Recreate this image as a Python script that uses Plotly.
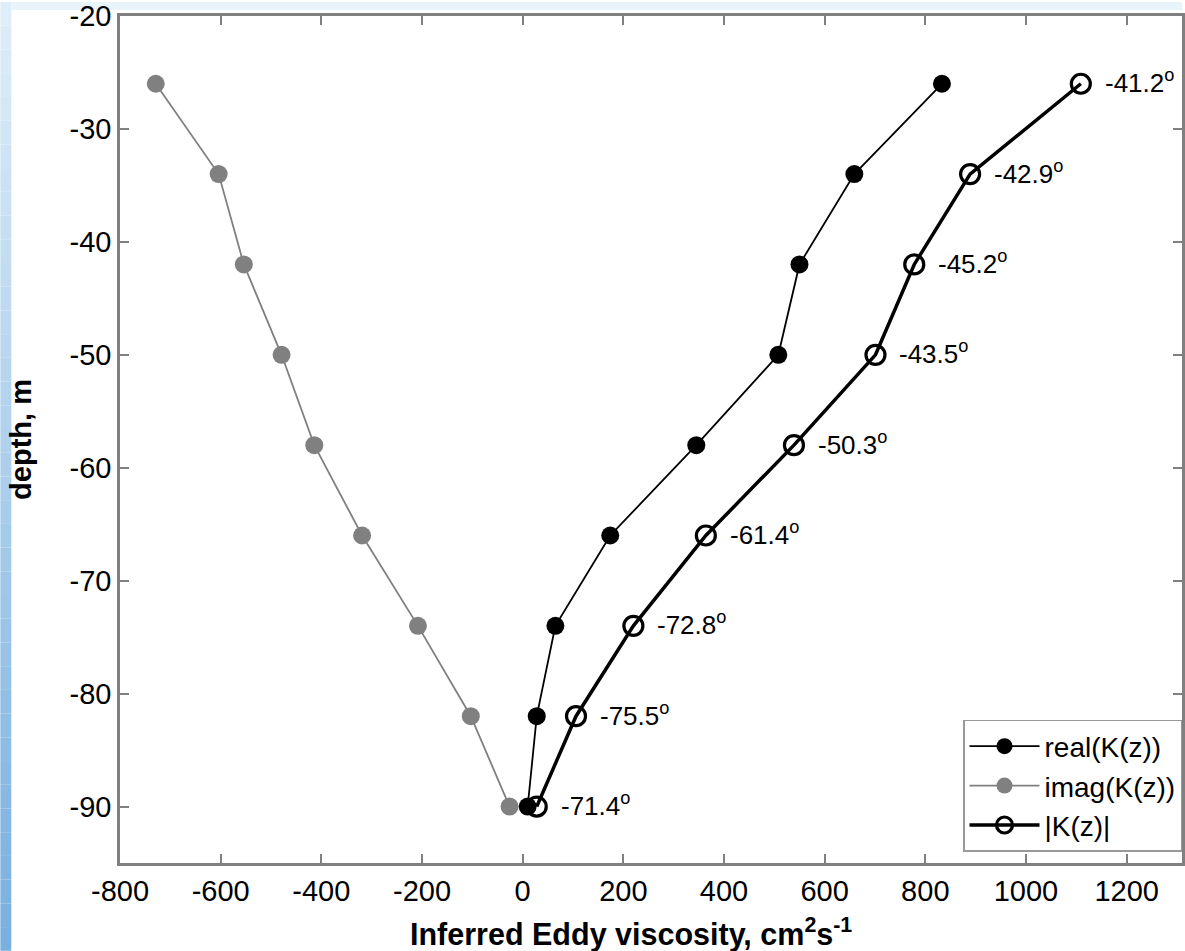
import plotly.graph_objects as go

depth = [-26, -34, -42, -50, -58, -66, -74, -82, -90]
real_k = [833, 659, 550, 508, 345, 174, 65, 28, 10]
imag_k = [-729, -604, -554, -479, -414, -319, -208, -103, -26]
abs_k = [1109, 889, 778, 701, 539, 364, 220, 106, 28]
phase_labels = ["-41.2", "-42.9", "-45.2", "-43.5", "-50.3", "-61.4", "-72.8", "-75.5", "-71.4"]

x_ticks = [-800, -600, -400, -200, 0, 200, 400, 600, 800, 1000, 1200]
x_tick_text = ["-800", "-600", "-400", "-200", "0", "200", "400", "600", "800", "1000", "1200"]
y_ticks = [-90, -80, -70, -60, -50, -40, -30, -20]
y_tick_text = ["-90", "-80", "-70", "-60", "-50", "-40", "-30", "-20"]

FONT = "Liberation Sans, Arial, Helvetica, sans-serif"
GRAY = "#808080"

fig = go.Figure()
fig.add_trace(go.Scatter(
    x=imag_k, y=depth, mode="lines+markers", name="imag(K(z))", legendrank=2,
    line=dict(color=GRAY, width=1.8),
    marker=dict(symbol="circle", size=18, color=GRAY),
))
fig.add_trace(go.Scatter(
    x=real_k, y=depth, mode="lines+markers", name="real(K(z))", legendrank=1,
    line=dict(color="black", width=1.8),
    marker=dict(symbol="circle", size=18, color="black"),
))
fig.add_trace(go.Scatter(
    x=abs_k, y=depth, mode="lines+markers", name="|K(z)|", legendrank=3,
    line=dict(color="black", width=3.5),
    marker=dict(symbol="circle-open", size=19, color="black", line=dict(width=3.2, color="black")),
))

for xv, yv, lab in zip(abs_k, depth, phase_labels):
    fig.add_annotation(
        x=xv, y=yv, xref="x", yref="y", text=f"{lab}<sup>o</sup>",
        showarrow=False, xanchor="left", yanchor="middle", xshift=22, yshift=2,
        font=dict(family=FONT, size=26, color="black"),
    )

# x axis title as annotation (positioned like the reference)
fig.add_annotation(
    x=0.481, y=-0.082, xref="paper", yref="paper",
    text="<b>Inferred Eddy viscosity, cm<sup>2</sup>s<sup>-1</sup></b>",
    showarrow=False, xanchor="center", yanchor="middle",
    font=dict(family=FONT, size=30.5, color="black"),
)

# decorative background strips (left gradient and top band)
PW, PH = 1065, 849
shapes = []
n = 40
top_c = (222, 238, 248)
bot_c = (122, 176, 224)
for i in range(n):
    t = i / (n - 1)
    c = tuple(int(top_c[k] + (bot_c[k] - top_c[k]) * t) for k in range(3))
    shapes.append(dict(type="rect", xref="paper", yref="paper", layer="below",
                       x0=-120 / PW, x1=-109 / PW,
                       y0=1 + 14 / PH - (i + 1) * (951 / PH) / n,
                       y1=1 + 14 / PH - i * (951 / PH) / n,
                       line=dict(width=0), fillcolor=f"rgb{c}"))
shapes.append(dict(type="rect", xref="paper", yref="paper", layer="below",
                   x0=-109 / PW, x1=1, y0=1 + 6 / PH, y1=1 + 14 / PH,
                   line=dict(width=0), fillcolor="rgb(232,243,250)"))

axis_common = dict(
    showgrid=False, zeroline=False, showline=True, linecolor=GRAY, linewidth=2.5,
    mirror="ticks", ticks="inside", ticklen=9, tickwidth=1.5, tickcolor=GRAY,
    tickfont=dict(family=FONT, size=29, color="black"), ticklabeloverflow="allow",
)

fig.update_layout(
    width=1185, height=951,
    margin=dict(l=120, r=0, t=14, b=88),
    paper_bgcolor="white", plot_bgcolor="white",
    shapes=shapes,
    xaxis=dict(range=[-800, 1310], tickvals=x_ticks, ticktext=x_tick_text, **axis_common),
    yaxis=dict(range=[-95, -20], tickvals=y_ticks, ticktext=y_tick_text,
               title=dict(text="<b>depth, m</b>", font=dict(family=FONT, size=29, color="black"), standoff=30),
               **axis_common),
    legend=dict(x=1.0, y=0.013, xanchor="right", yanchor="bottom",
                bgcolor="white", bordercolor="#999999", borderwidth=1.5,
                font=dict(family=FONT, size=28, color="black"),
                tracegroupgap=0, itemwidth=70),
    showlegend=True,
)

fig.write_html("out.html", config={"displayModeBar": False},
               post_script="document.body.style.margin='0';document.body.style.overflow='hidden';")
